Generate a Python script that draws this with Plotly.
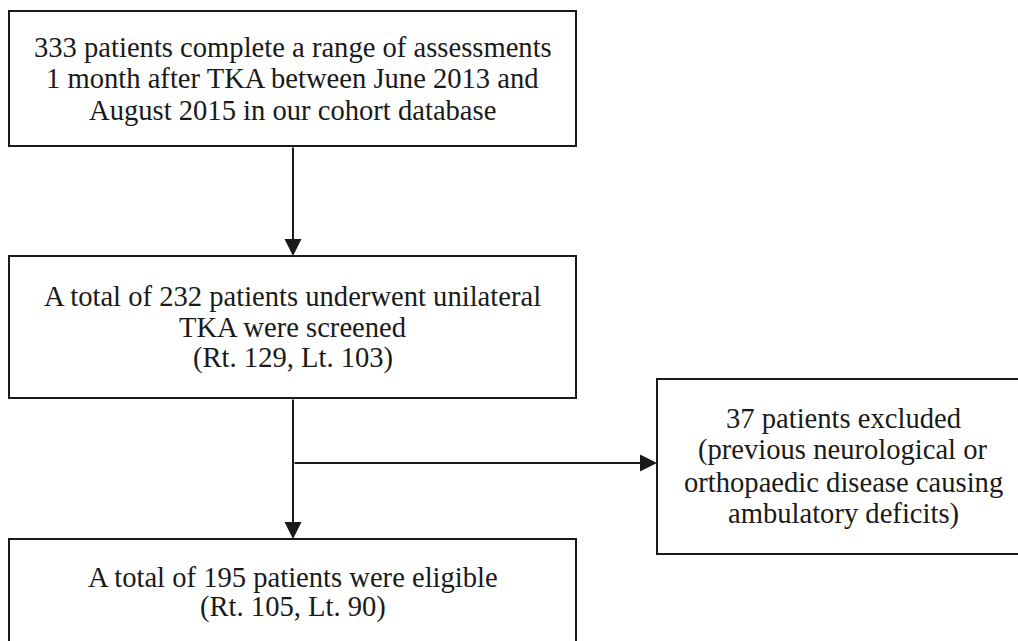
"""Patient selection flowchart (TKA cohort) drawn with Plotly shapes/annotations."""

import plotly.graph_objects as go

# ---------------------------------------------------------------------------
# Data
# ---------------------------------------------------------------------------
cohort_total = 333
screened = [232, 129, 103]     # total, right, left
excluded = 37
eligible = [195, 105, 90]      # total, right, left

box_text = [
    [f"{cohort_total} patients complete a range of assessments",
     "1 month after TKA between June 2013 and",
     "August 2015 in our cohort database"],
    [f"A total of {screened[0]} patients underwent unilateral",
     "TKA were screened",
     f"(Rt. {screened[1]}, Lt. {screened[2]})"],
    [f"{excluded} patients excluded",
     "(previous neurological or",
     "orthopaedic disease causing",
     "ambulatory deficits)"],
    [f"A total of {eligible[0]} patients were eligible",
     f"(Rt. {eligible[1]}, Lt. {eligible[2]})"],
]

# ---------------------------------------------------------------------------
# Layout (pixel space, y grows downwards)
# ---------------------------------------------------------------------------
W, H = 1018, 641
_BOXES = [  # x0, y0, x1, y1
    (9, 11, 576, 146),
    (9, 256, 576, 398),
    (657, 379, 1030, 554),
    (9, 539, 576, 660),
]
_TEXT_CX = [292.5, 292.5, 843, 292.5]
_TEXT_Y0 = [47, 296, 418, 577]
_LINE_GAP = [31.5, 31, 32, 30]

_INK = "#1a1a1a"
_FONT = dict(family="Liberation Serif, Times New Roman, serif", size=28.6, color=_INK)
_STEM_X = 293
_BRANCH_Y = 463

fig = go.Figure()

# Boxes
for (x0, y0, x1, y1) in _BOXES:
    fig.add_shape(type="rect", x0=x0, y0=y0, x1=x1, y1=y1,
                  xref="x", yref="y",
                  line=dict(color=_INK, width=2), fillcolor="white", layer="below")

# Box text, one annotation per line to control leading
for lines, cx, y0, gap in zip(box_text, _TEXT_CX, _TEXT_Y0, _LINE_GAP):
    for k, line in enumerate(lines):
        fig.add_annotation(x=cx, y=y0 + k * gap, text=line, showarrow=False,
                           xref="x", yref="y", xanchor="center", yanchor="middle",
                           font=_FONT)


def _arrow(x_from, y_from, x_to, y_to, head=True):
    fig.add_annotation(
        x=x_to, y=y_to, ax=x_from, ay=y_from,
        xref="x", yref="y", axref="x", ayref="y",
        text="", showarrow=True,
        arrowhead=2 if head else 0, arrowsize=1.7, arrowwidth=2,
        arrowcolor=_INK, standoff=0, startstandoff=0,
    )


# Connectors
_arrow(_STEM_X, _BOXES[0][3], _STEM_X, _BOXES[1][1])
_arrow(_STEM_X, _BOXES[1][3], _STEM_X, _BOXES[3][1])
_arrow(_STEM_X, _BRANCH_Y, _BOXES[2][0], _BRANCH_Y)

fig.update_layout(
    width=W, height=H,
    margin=dict(l=0, r=0, t=0, b=0),
    xaxis=dict(visible=False, range=[0, W], fixedrange=True),
    yaxis=dict(visible=False, range=[H, 0], fixedrange=True),
    plot_bgcolor="white",
    paper_bgcolor="white",
    showlegend=False,
)

# drop the browser's default body margin so the figure sits at the page origin
fig.write_html("out.html", config={"displayModeBar": False},
               post_script="document.body.style.margin='0';")
